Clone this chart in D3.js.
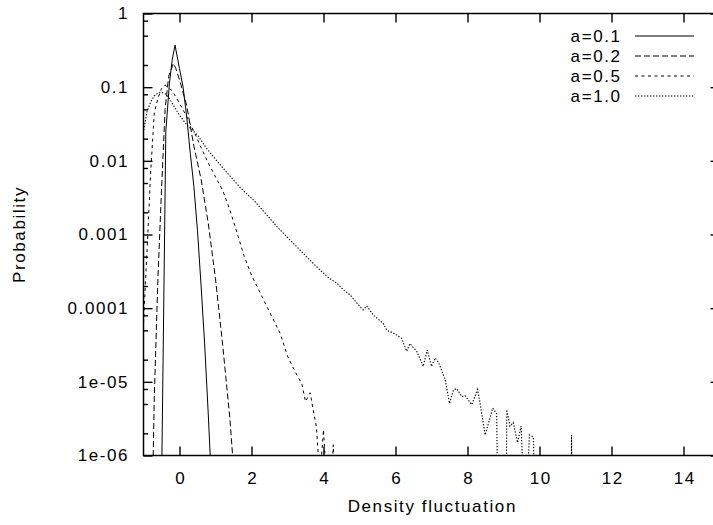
<!DOCTYPE html>
<html>
<head>
<meta charset="utf-8">
<script src="https://cdn.jsdelivr.net/npm/d3@7"></script>
<style>
	body { margin: 0; background: #fff; }
	svg text { font-family: 'Liberation Sans', Arial, sans-serif; font-size: 17px; letter-spacing: 1.6px; fill: #000; }
</style>
</head>
<body>
<svg id="chart" width="713" height="525"></svg>
<script>
(function (d3) {
	'use strict';

	// series labels (legend order)
	var seriesNames = ['a=0.1', 'a=0.2', 'a=0.5', 'a=1.0'];

	// [density fluctuation, probability]
	var a01 = [[-0.5, 3.2e-7], [-0.38, 0.0251], [-0.28, 0.112], [-0.2, 0.24], [-0.125, 0.372], [0.0, 0.178],
		[0.1, 0.1], [0.2, 0.0398], [0.3, 0.0126], [0.4, 0.00447], [0.5, 0.00112], [0.6, 2.0e-4],
		[0.7, 3.16e-5], [0.8, 3.55e-6], [0.9, 3.2e-7]];

	var a02 = [[-0.75, 3.2e-7], [-0.7, 6.3e-6], [-0.6, 2.5e-4], [-0.5, 0.00398], [-0.4, 0.05], [-0.3, 0.141],
		[-0.17, 0.21], [-0.1, 0.178], [0.0, 0.126], [0.2, 0.0562], [0.4, 0.0158], [0.6, 0.00562],
		[0.8, 0.00141], [1.0, 2.5e-4], [1.2, 3.16e-5], [1.4, 3.16e-6], [1.55, 3.2e-7]];

	var a05 = [[-1.05, 1e-5], [-1.0, 6.3e-5], [-0.9, 6.3e-4], [-0.8, 0.00708], [-0.7, 0.0447], [-0.6, 0.0708],
		[-0.5, 0.0955], [-0.4, 0.107], [-0.2, 0.0891], [0.0, 0.0603], [0.2, 0.0398], [0.4, 0.0251],
		[0.6, 0.0151], [0.8, 0.00933], [1.0, 0.00603], [1.2, 0.00398], [1.4, 0.00214], [1.6, 0.00105],
		[1.8, 5.0e-4], [2.0, 2.8e-4], [2.2, 1.78e-4], [2.4, 1.12e-4], [2.6, 7.1e-5], [2.8, 4.5e-5],
		[3.0, 2.24e-5], [3.2, 1.41e-5], [3.4, 9.3e-6], [3.5, 5.4e-6], [3.63, 7.1e-6], [3.7, 4.5e-6],
		[3.8, 2.5e-6], [3.9, 5e-7], [4.0, 2.24e-6], [4.1, 3.2e-7], [4.22, 3.2e-7], [4.27, 1.4e-6],
		[4.33, 3.2e-7]];

	var a10 = [[-1.1, 0.00251], [-1.0, 0.0251], [-0.9, 0.0468], [-0.8, 0.0631], [-0.7, 0.0759], [-0.6, 0.0832],
		[-0.5, 0.0851], [-0.4, 0.0813], [-0.3, 0.0724], [-0.2, 0.0603], [0.0, 0.0417], [0.2, 0.0309],
		[0.5, 0.0224], [0.75, 0.0148], [1.0, 0.0105], [1.3, 0.00708], [1.7, 0.00427], [2.05, 0.00295],
		[2.4, 0.00191], [2.7, 0.00129], [3.0, 9.1e-4], [3.26, 6.8e-4], [3.6, 4.6e-4], [3.9, 3.3e-4],
		[4.18, 2.5e-4], [4.37, 2.2e-4], [4.55, 1.78e-4], [4.74, 1.51e-4], [5.01, 1.05e-4], [5.1, 9.5e-5],
		[5.2, 1.07e-4], [5.38, 8.1e-5], [5.66, 6.2e-5], [5.76, 5.0e-5], [5.94, 4.6e-5], [6.17, 3.9e-5],
		[6.31, 2.6e-5], [6.4, 3.3e-5], [6.59, 2.6e-5], [6.77, 1.62e-5], [6.88, 2.7e-5], [7.0, 1.62e-5],
		[7.1, 2.1e-5], [7.19, 1.86e-5], [7.38, 1.07e-5], [7.5, 5.1e-6], [7.61, 7.8e-6], [7.7, 8.1e-6],
		[7.84, 6.3e-6], [7.93, 6.5e-6], [8.12, 4.9e-6], [8.28, 7.9e-6], [8.35, 5.1e-6], [8.49, 1.9e-6],
		[8.7, 4.4e-6], [8.81, 3.7e-6], [8.9, 1e-9], [9.06, 1e-9], [9.09, 4.2e-6], [9.18, 2.5e-6],
		[9.27, 2.8e-6], [9.39, 1.5e-6], [9.49, 2.5e-6], [9.6, 1e-7], [9.72, 1.9e-6], [9.83, 1.78e-6],
		[9.93, 1e-8], [10.86, 1e-9], [10.89, 1.9e-6], [10.92, 1e-9]];

	var seriesData = [a01, a02, a05, a10];
	var seriesDash = ['none', '6,3', '3,3.5', '1.3,1.7'];
	var seriesWidth = [1, 1, 1, 1.15];

	var xTicks = [0, 2, 4, 6, 8, 10, 12, 14];
	var yTicks = [1, 0.1, 0.01, 0.001, 0.0001, 1e-5, 1e-6];
	var yTickLabels = ['1', '0.1', '0.01', '0.001', '0.0001', '1e-05', '1e-06'];
	var yMinorTicks = [0.8, 0.5, 0.2, 0.08, 0.05, 0.02, 0.008, 0.005, 0.002, 8e-4, 5e-4, 2e-4,
		8e-5, 5e-5, 2e-5, 8e-6, 5e-6, 2e-6];

	var left = 143.5, right = 719.5, top = 13.5, bottom = 455.5;

	var svg = d3.select('#chart');

	var x = d3.scaleLinear().domain([-1, 15]).range([left, right]);
	var y = d3.scaleLog().domain([1e-6, 1]).range([bottom, top]);

	function tidy(g) {
		g.select('.domain').remove();
		g.attr('font-family', null).attr('font-size', null);
		g.selectAll('line').attr('stroke', '#000').attr('stroke-width', 1.4);
	}

	// bottom axis with labels
	svg.append('g')
		.attr('transform', 'translate(0,' + bottom + ')')
		.call(d3.axisBottom(x).tickValues(xTicks).tickSize(-9).tickSizeOuter(0).tickPadding(16.5)
			.tickFormat(d3.format('d')))
		.call(tidy)
		.selectAll('text').attr('dx', '0.8px');

	// top axis, ticks only
	svg.append('g')
		.attr('transform', 'translate(0,' + top + ')')
		.call(d3.axisTop(x).tickValues(xTicks).tickSize(-9).tickSizeOuter(0).tickFormat(''))
		.call(tidy);

	// left axis
	svg.append('g')
		.attr('transform', 'translate(' + left + ',0)')
		.call(d3.axisLeft(y).tickValues(yTicks).tickSize(-9).tickSizeOuter(0).tickPadding(14.4)
			.tickFormat(function (d, i) { return yTickLabels[i]; }))
		.call(tidy);
	svg.append('g')
		.attr('transform', 'translate(' + left + ',0)')
		.call(d3.axisLeft(y).tickValues(yMinorTicks).tickSize(-4.5).tickSizeOuter(0).tickFormat(''))
		.call(tidy);

	// right axis (mirror)
	svg.append('g')
		.attr('transform', 'translate(' + right + ',0)')
		.call(d3.axisRight(y).tickValues(yTicks).tickSize(-9).tickSizeOuter(0).tickFormat(''))
		.call(tidy);
	svg.append('g')
		.attr('transform', 'translate(' + right + ',0)')
		.call(d3.axisRight(y).tickValues(yMinorTicks).tickSize(-4.5).tickSizeOuter(0).tickFormat(''))
		.call(tidy);

	// frame
	svg.append('rect')
		.attr('x', left).attr('y', top)
		.attr('width', right - left).attr('height', bottom - top)
		.attr('fill', 'none').attr('stroke', '#000').attr('stroke-width', 1.5);

	svg.append('clipPath').attr('id', 'plotClip')
		.append('rect')
		.attr('x', left).attr('y', top)
		.attr('width', right - left).attr('height', bottom - top);

	var line = d3.line()
		.x(function (d) { return x(d[0]); })
		.y(function (d) { return y(d[1]); });

	var plot = svg.append('g').attr('clip-path', 'url(#plotClip)');
	seriesData.forEach(function (data, i) {
		plot.append('path')
			.datum(data)
			.attr('fill', 'none')
			.attr('stroke', '#000')
			.attr('stroke-width', seriesWidth[i])
			.attr('stroke-dasharray', seriesDash[i])
			.attr('d', line);
	});

	// legend
	var legend = svg.append('g');
	seriesNames.forEach(function (name, i) {
		var yy = 36 + i * 20;
		legend.append('text')
			.attr('x', 621.6).attr('y', yy + 6)
			.attr('text-anchor', 'end')
			.text(name);
		legend.append('line')
			.attr('x1', 635).attr('x2', 694)
			.attr('y1', yy).attr('y2', yy)
			.attr('stroke', '#000')
			.attr('stroke-width', seriesWidth[i])
			.attr('stroke-dasharray', seriesDash[i]);
	});

	// axis titles
	svg.append('text')
		.attr('x', (left + right) / 2 + 0.8).attr('y', 512)
		.attr('text-anchor', 'middle')
		.text('Density fluctuation');

	svg.append('text')
		.attr('transform', 'translate(25,' + ((top + bottom) / 2) + ') rotate(-90)')
		.attr('text-anchor', 'middle')
		.text('Probability');
})(d3);
</script>
</body>
</html>
